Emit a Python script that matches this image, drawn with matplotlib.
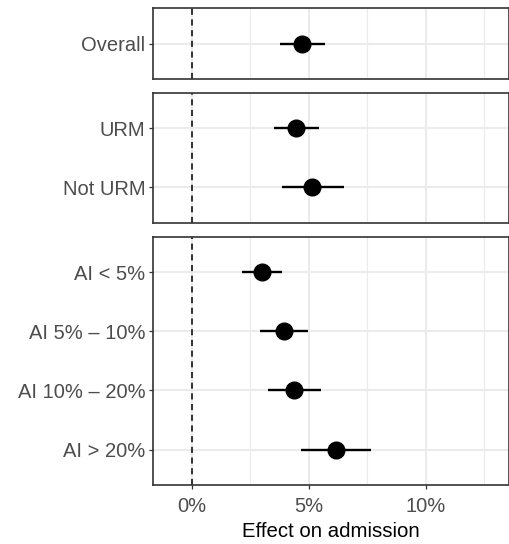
import matplotlib
matplotlib.use('Agg')
import matplotlib.pyplot as plt
from matplotlib.ticker import FuncFormatter, MultipleLocator

plt.rcParams['font.family'] = ['Liberation Sans', 'DejaVu Sans']

# estimates in percent, one list per panel
groups = [
    ['Overall'],
    ['URM', 'Not URM'],
    ['AI < 5%', 'AI 5% \u2013 10%', 'AI 10% \u2013 20%', 'AI > 20%'],
]
est = [
    [4.71],
    [4.44, 5.15],
    [3.02, 3.93, 4.38, 6.17],
]
lo = [
    [3.76],
    [3.50, 3.86],
    [2.17, 2.94, 3.28, 4.68],
]
hi = [
    [5.71],
    [5.42, 6.51],
    [3.87, 4.95, 5.52, 7.64],
]

fig, axes = plt.subplots(3, 1, figsize=(5.1, 5.44), dpi=100, sharex=True,
                         gridspec_kw={'height_ratios': [len(g) + 0.2 for g in groups]})
fig.subplots_adjust(left=0.3, right=0.998, top=0.985, bottom=0.108, hspace=0.09)

for ax, labels, e, l, h in zip(axes, groups, est, lo, hi):
    n = len(labels)
    ys = list(range(n, 0, -1))
    ax.set_facecolor('white')
    ax.grid(True, which='major', color='#EBEBEB', linewidth=1.5, zorder=0)
    ax.grid(True, which='minor', axis='x', color='#EBEBEB', linewidth=0.8, zorder=0)
    ax.axvline(0, color='black', linestyle=(0, (4, 3)), linewidth=1.1, zorder=1)
    ax.hlines(ys, l, h, color='black', linewidth=1.7, zorder=2)
    ax.plot(e, ys, 'o', color='black', markersize=12, zorder=3)
    ax.set_ylim(0.4, n + 0.6)
    ax.set_yticks(ys)
    ax.set_yticklabels(labels)
    ax.set_xlim(-1.65, 13.55)
    ax.xaxis.set_major_locator(MultipleLocator(5))
    ax.xaxis.set_minor_locator(MultipleLocator(2.5))
    ax.tick_params(axis='both', which='major', length=3, width=0.9, color='#333333',
                   labelcolor='#4D4D4D', labelsize=14.5, pad=2.5)
    ax.tick_params(axis='x', which='major', pad=5.5)
    ax.tick_params(axis='x', which='minor', length=0)
    for s in ax.spines.values():
        s.set_color('#333333')
        s.set_linewidth(1.2)
    ax.set_axisbelow(True)

for ax in axes[:-1]:
    ax.tick_params(axis='x', which='major', length=0, labelbottom=False)

axes[-1].xaxis.set_major_formatter(FuncFormatter(lambda v, p: f'{v:.0f}%'))
axes[-1].set_xlabel('Effect on admission', fontsize=14.7, labelpad=4)

plt.savefig('out.png', dpi=100)
